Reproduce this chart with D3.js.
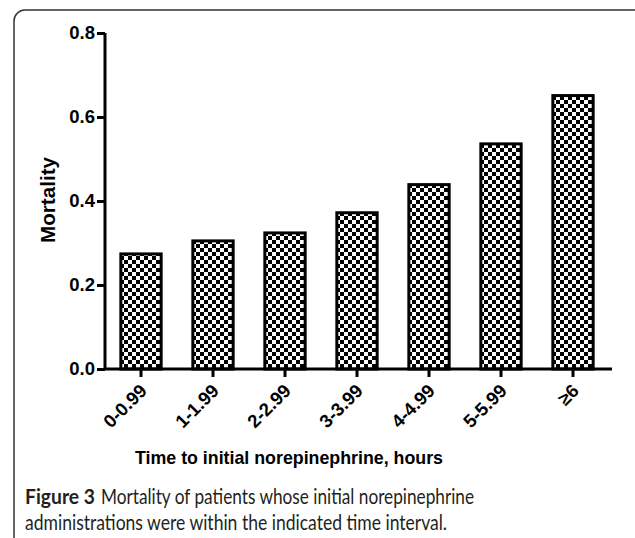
<!DOCTYPE html>
<html>
<head>
<meta charset="utf-8">
<script src="https://cdn.jsdelivr.net/npm/d3@7"></script>
<style>
  body { margin: 0; background: #fff; }
  svg { display: block; }
</style>
</head>
<body>
<div id="chart"></div>
<script>
const categories = ["0-0.99", "1-1.99", "2-2.99", "3-3.99", "4-4.99", "5-5.99", "\u22656"];
const mortality = [0.274, 0.305, 0.324, 0.372, 0.439, 0.536, 0.651];
const yTicks = [0.0, 0.2, 0.4, 0.6, 0.8];

const W = 635, H = 538;
const svg = d3.select("#chart").append("svg")
    .attr("width", W)
    .attr("height", H);

// checkerboard fill like the original print
const defs = svg.append("defs");
const pat = defs.append("pattern")
    .attr("id", "checker")
    .attr("patternUnits", "userSpaceOnUse")
    .attr("width", 8).attr("height", 8);
pat.append("rect").attr("width", 8).attr("height", 8).attr("fill", "#fff");
pat.append("rect").attr("width", 4).attr("height", 4).attr("fill", "#000");
pat.append("rect").attr("x", 4).attr("y", 4).attr("width", 4).attr("height", 4).attr("fill", "#000");

// figure frame
svg.append("rect")
    .attr("x", 14).attr("y", 10)
    .attr("width", 640).attr("height", 560)
    .attr("rx", 11)
    .attr("fill", "none")
    .attr("stroke", "#333")
    .attr("stroke-width", 1.5);

const x = d3.scaleBand()
    .domain(categories)
    .range([105, 609])
    .paddingInner(0.44)
    .paddingOuter(0.22);

const y = d3.scaleLinear()
    .domain([0, 0.8])
    .range([369, 33]);

svg.selectAll(".bar")
    .data(categories)
    .enter().append("rect")
    .attr("class", "bar")
    .attr("x", d => x(d))
    .attr("y", (d, i) => y(mortality[i]))
    .attr("width", x.bandwidth())
    .attr("height", (d, i) => y(0) - y(mortality[i]))
    .attr("fill", "url(#checker)")
    .attr("stroke", "#000")
    .attr("stroke-width", 3);

const yAxis = d3.axisLeft(y)
    .tickValues(yTicks)
    .tickSize(8)
    .tickPadding(2)
    .tickFormat(d3.format(".1f"));
const gy = svg.append("g")
    .attr("transform", "translate(105,0)")
    .call(yAxis);

const xAxis = d3.axisBottom(x)
    .tickSize(8)
    .tickSizeOuter(0);
const gx = svg.append("g")
    .attr("transform", "translate(0,369)")
    .call(xAxis);

[gy, gx].forEach(g => {
    g.select(".domain").attr("stroke-width", 3).attr("stroke", "#000");
    g.selectAll(".tick line").attr("stroke-width", 3).attr("stroke", "#000");
    g.selectAll("text")
        .attr("font-family", "Liberation Sans, Arial, sans-serif")
        .attr("font-weight", "bold")
        .attr("font-size", 18.5)
        .attr("fill", "#000");
});
// stretch x domain line to the right end
gx.select(".domain").attr("d", "M105,0H612");
gy.select(".domain").attr("d", "M0,33V369");

gx.selectAll(".tick text")
    .attr("text-anchor", "end")
    .attr("dy", 0)
    .attr("y", 0)
    .attr("transform", "translate(7,23) rotate(-45)");

svg.append("text")
    .attr("x", 289)
    .attr("y", 464)
    .attr("text-anchor", "middle")
    .attr("font-family", "Liberation Sans, Arial, sans-serif")
    .attr("font-weight", "bold")
    .attr("font-size", 19)
    .attr("textLength", 308)
    .attr("lengthAdjust", "spacingAndGlyphs")
    .text("Time to initial norepinephrine, hours");

svg.append("text")
    .attr("transform", "translate(55,200) rotate(-90)")
    .attr("text-anchor", "middle")
    .attr("font-family", "Liberation Sans, Arial, sans-serif")
    .attr("font-weight", "bold")
    .attr("font-size", 20)
    .attr("textLength", 86)
    .attr("lengthAdjust", "spacingAndGlyphs")
    .text("Mortality");

// caption, split so each piece can be fitted to the original widths
const capFont = "Lato, Open Sans, sans-serif";
function caption(txt, x0, y0, len, bold) {
    svg.append("text")
        .attr("x", x0).attr("y", y0)
        .attr("font-family", capFont)
        .attr("font-size", 21)
        .attr("font-weight", bold ? "bold" : "normal")
        .attr("fill", "#231f20")
        .attr("textLength", len)
        .attr("lengthAdjust", "spacingAndGlyphs")
        .text(txt);
}
caption("Figure 3", 25, 504, 70, true);
caption("Mortality of patients whose initial norepinephrine", 101, 504, 373, false);
caption("administrations were within the indicated time interval.", 25, 530, 422, false);
</script>
</body>
</html>
